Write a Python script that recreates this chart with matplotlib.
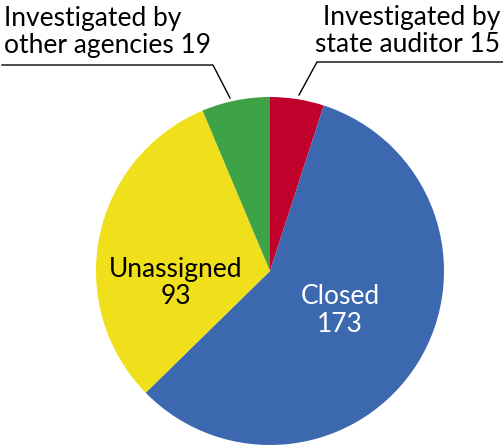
import matplotlib
matplotlib.use("Agg")
import matplotlib.pyplot as plt

# ── Data ──
categories = ["Investigated by\nstate auditor", "Closed", "Unassigned",
              "Investigated by\nother agencies"]
values = [15, 173, 93, 19]
colors = ["#C1002B", "#3C68AF", "#F0E01B", "#3EA247"]

plt.rcParams['font.family'] = ['Lato', 'DejaVu Sans']

W, H = 503, 446
fig = plt.figure(figsize=(W / 100, H / 100), dpi=100)
ax = fig.add_axes([0, 0, 1, 1])
ax.set_xlim(0, W)
ax.set_ylim(0, H)
ax.set_aspect('equal')
ax.axis('off')

# pie in pixel coords (y measured upward)
cx, cy, r = 270, 175, 174
ax.pie(values, colors=colors, startangle=90, counterclock=False,
       center=(cx, cy), radius=r, wedgeprops=dict(linewidth=0))
ax.set_xlim(0, W)
ax.set_ylim(0, H)

fs = 19
# inner labels
ax.text(340, H - 311, f"{categories[1]}\n{values[1]}", color='white',
        fontsize=fs, ha='center', va='center', linespacing=1.15)
ax.text(176, H - 283, f"{categories[2]}\n{values[2]}", color='black',
        fontsize=fs, ha='center', va='center', linespacing=1.15)

# outer labels with leader lines
ax.text(4, H - 32, f"{categories[3]} {values[3]}", color='black',
        fontsize=fs, ha='left', va='center', linespacing=1.1)
ax.plot([2, 213, 230], [H - 65, H - 65, H - 98], color='black', lw=1)

ax.text(W - 3, H - 31, f"{categories[0]} {values[0]}", color='black',
        fontsize=fs, ha='right', va='center', linespacing=1.1)
ax.plot([W, 317, 299], [H - 62, H - 62, H - 95], color='black', lw=1)

fig.savefig("out.png", dpi=100)
